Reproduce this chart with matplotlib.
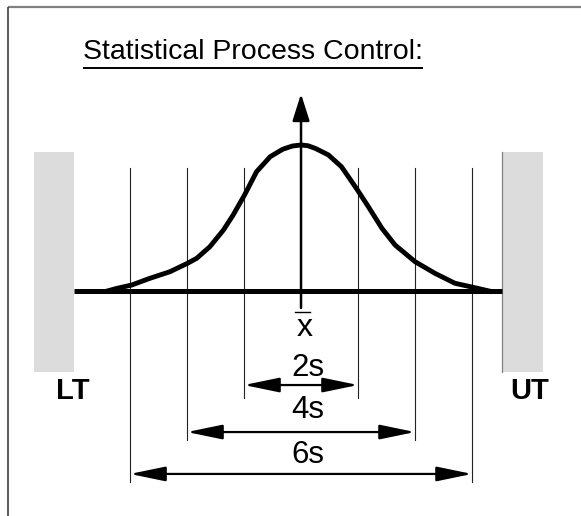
import numpy as np
import matplotlib.pyplot as plt

plt.rcParams['font.family'] = ['Liberation Sans', 'DejaVu Sans']

# bell curve: x in sigma units, height relative to peak
curve_x = [-3.40, -3.23, -2.97, -2.65, -2.30, -1.99, -1.83, -1.60, -1.36, -1.19,
           -0.99, -0.78, -0.54, -0.32, -0.15, 0.00, 0.12, 0.25, 0.48, 0.71, 0.99,
           1.18, 1.42, 1.65, 2.00, 2.35, 2.70, 3.02, 3.30]
curve_h = [0.000, 0.018, 0.041, 0.087, 0.132, 0.190, 0.224, 0.303, 0.418, 0.521,
           0.658, 0.817, 0.920, 0.971, 0.993, 1.000, 0.995, 0.977, 0.932, 0.851,
           0.692, 0.578, 0.429, 0.315, 0.201, 0.121, 0.053, 0.025, 0.000]

sigma_lines = [-3, -2, -1, 1, 2, 3]
spans = [1, 2, 3]
span_labels = ['2s', '4s', '6s']
title = 'Statistical Process Control:'

W, H = 581, 516
fig = plt.figure(figsize=(W / 100, H / 100), dpi=100)
ax = fig.add_axes([0, 0, 1, 1])
ax.set_xlim(-5.281, 4.912)
ax.set_ylim(-1.541, 1.993)
ax.axis('off')

# frame (only top and left edges show)
ax.plot([8 / W, 1], [1 - 6.5 / H, 1 - 6.5 / H], color='#808080', lw=1.6,
        transform=ax.transAxes, solid_capstyle='butt')
ax.plot([8 / W, 8 / W], [0, 1 - 6.5 / H], color='#404040', lw=1.2,
        transform=ax.transAxes, solid_capstyle='butt')

# tolerance bands
ax.fill_between([-4.68, -3.98], -0.555, 0.952, color='#dcdcdc', lw=0)
ax.fill_between([3.53, 4.25], -0.555, 0.952, color='#dcdcdc', lw=0)
ax.plot([3.53, 3.53], [-0.555, 0.952], color='#808080', lw=0.9)
ax.text(-4.01, -0.685, 'LT', fontsize=21, fontweight='bold', ha='center', va='center')
ax.text(4.02, -0.685, 'UT', fontsize=21, fontweight='bold', ha='center', va='center')

# sigma lines
bottoms = {1: -0.733, 2: -1.021, 3: -1.308}
for s in sigma_lines:
    ax.plot([s, s], [bottoms[abs(s)], 0.842], color='#222222', lw=0.8)

# baseline and curve
ax.plot([-3.98, 3.53], [0, 0], color='black', lw=3.6, solid_capstyle='butt')
ax.plot(curve_x, curve_h, color='black', lw=3.5, solid_joinstyle='round')

# centre axis with arrow
ax.annotate('', xy=(0, 1.35), xytext=(0, -0.116),
            arrowprops=dict(arrowstyle='-|>,head_length=1.1,head_width=0.35',
                            mutation_scale=15, color='black', lw=1.8,
                            shrinkA=0, shrinkB=0))
ax.plot([-0.105, 0.158], [-0.144, -0.144], color='black', lw=1.0)
ax.text(0.07, -0.25, 'x', fontsize=23, ha='center', va='center')

# spread arrows
arrow_y = [-0.644, -0.966, -1.253]
label_y = [-0.527, -0.815, -1.123]
for s, lab, ay, ly in zip(spans, span_labels, arrow_y, label_y):
    ax.annotate('', xy=(s, ay), xytext=(-s, ay),
                arrowprops=dict(arrowstyle='<|-|>,head_length=1.45,head_width=0.3',
                                mutation_scale=15, color='black', lw=1.6,
                                shrinkA=0, shrinkB=0))
    ax.text(0.12, ly, lab, fontsize=22.5, ha='center', va='center')

# title with underline
t = ax.text(-0.842, 1.637, title, fontsize=20.5, ha='center', va='center')
fig.canvas.draw()
bb = t.get_window_extent()
uy = 1 - 68 / H
ax.plot([bb.x0 / W, bb.x1 / W], [uy, uy], color='black', lw=1.4,
        transform=ax.transAxes, solid_capstyle='butt')

fig.savefig('out.png', dpi=100)
